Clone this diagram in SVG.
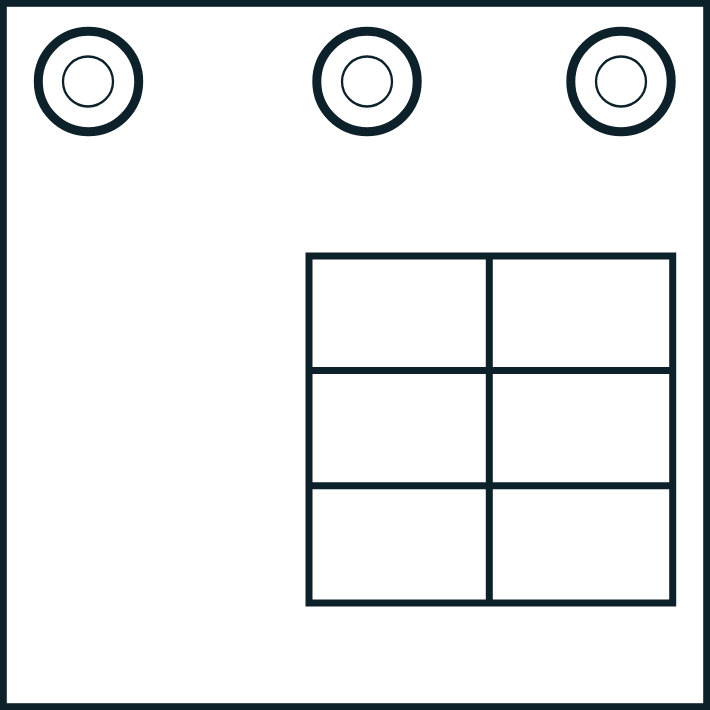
<svg xmlns="http://www.w3.org/2000/svg" width="710" height="710" viewBox="0 0 710 710">
<style>
.ln{fill:none;stroke:#0d212a;stroke-width:7}
.ring{fill:none;stroke:#0d212a;stroke-width:9}
.inner{fill:none;stroke:#0d212a;stroke-width:2.3}
</style>
<rect x="0" y="0" width="710" height="710" fill="#ffffff"/>
<rect id="frame" class="ln" x="3.3" y="3.3" width="703.4" height="703.4"/>
<g id="circle1"><circle class="ring" cx="88.5" cy="81.5" r="50.2"/><circle class="inner" cx="88" cy="81.5" r="25"/></g>
<g id="circle2"><circle class="ring" cx="367" cy="81.5" r="50.2"/><circle class="inner" cx="367" cy="81.5" r="25"/></g>
<g id="circle3"><circle class="ring" cx="621" cy="81.5" r="50.2"/><circle class="inner" cx="621" cy="81.5" r="25"/></g>
<g id="grid">
<rect class="ln" x="309" y="256" width="363.7" height="347"/>
<line class="ln" x1="489.3" y1="256" x2="489.3" y2="603"/>
<line class="ln" x1="309" y1="370.5" x2="672.7" y2="370.5"/>
<line class="ln" x1="309" y1="485.7" x2="672.7" y2="485.7"/>
</g>
</svg>
